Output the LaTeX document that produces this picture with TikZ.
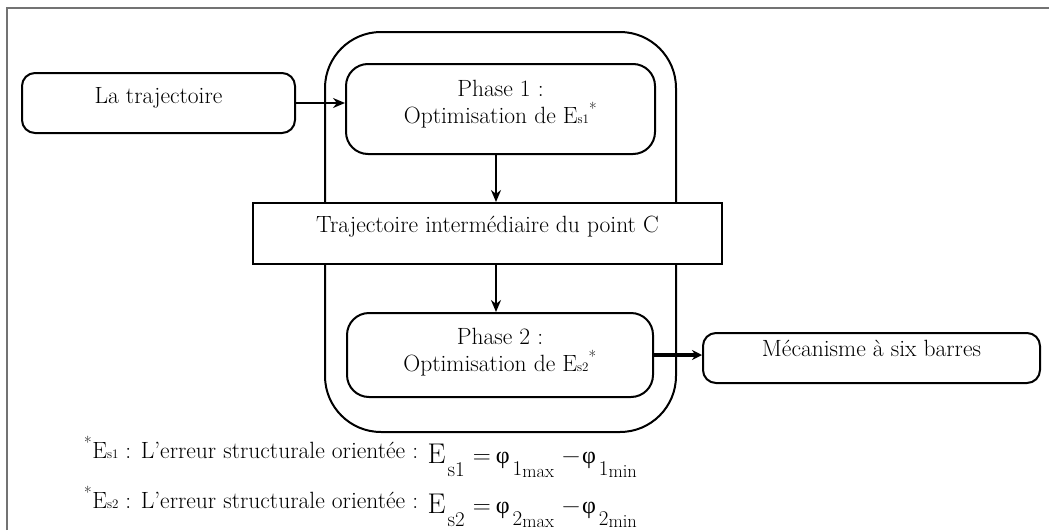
\documentclass[tikz,border=0pt]{standalone}
\usepackage{fontspec}
\newfontfamily\grk{Liberation Serif}
\usetikzlibrary{arrows.meta}

% E with a small subscript index (as written in the boxes)
\newcommand{\Esub}[1]{E{\fontsize{13}{13}\selectfont s#1}}
% lowered text at a given size: depth, size, text
\newcommand{\lowr}[3]{\raisebox{-#1pt}{\fontsize{#2}{#2}\selectfont #3}}
% structural error formula: index
\newcommand{\errformula}[1]{%
  \lowr{5}{28.5}{E}\hspace{2pt}\lowr{18}{21}{s#1}\hspace{8pt}%
  \lowr{5}{25}{=}\hspace{5pt}%
  \lowr{5}{24}{\grk φ}\hspace{3pt}\lowr{17}{21}{#1}\lowr{19}{18.5}{max}\hspace{8pt}%
  \lowr{5}{25}{−}\hspace{2pt}%
  \lowr{5}{24}{\grk φ}\hspace{3pt}\lowr{17}{21}{#1}\lowr{19}{18.5}{min}}

\tikzset{
  frameline/.style={draw=gray!90!black, line width=2pt},
  rbox/.style={draw, line width=2pt, rounded corners=13pt, inner sep=0pt},
  phasebox/.style={draw, line width=2pt, rounded corners=22pt, inner sep=0pt},
  outerbox/.style={draw, line width=2pt, rounded corners=56pt, inner sep=0pt},
  sqbox/.style={draw, line width=2pt, inner sep=0pt},
  lbl/.style={font=\fontsize{23.5}{27}\selectfont, align=center, inner sep=0pt},
  note/.style={anchor=base west, inner sep=0pt, font=\fontsize{23.5}{27}\selectfont},
  arr/.style={line width=2pt, -{Stealth[length=12pt,width=10pt]}},
  thickarr/.style={line width=4.5pt, -{Stealth[length=10pt,width=10pt]}},
}

\begin{document}
\begin{tikzpicture}[x=1pt,y=-1pt]
  \useasboundingbox (0,0) rectangle (1049,530);

  % page frame (top and left edges)
  \draw[frameline] (7,530) -- (7,8) -- (1049,8);

  % outer rounded container
  \node[outerbox, minimum width=351pt, minimum height=400pt] (outer) at (500.5,232) {};

  % boxes
  \node[rbox, minimum width=273pt, minimum height=60pt] (traj) at (158.5,103) {};
  \node[phasebox, minimum width=309pt, minimum height=90pt] (p1) at (500.5,109) {};
  \node[sqbox, fill=white, minimum width=469pt, minimum height=61pt] (inter) at (487.5,233.5) {};
  \node[phasebox, minimum width=306pt, minimum height=84pt] (p2) at (500,355) {};
  \node[rbox, minimum width=337pt, minimum height=50pt] (mec) at (871.5,358) {};

  % box texts
  \node[lbl] (ttraj) at ([yshift=5pt]traj.center) {La trajectoire};
  \node[lbl] (tp1) at ([yshift=5pt]p1.center) {Phase 1 :\\ Optimisation de \Esub{1}\textsuperscript{*}};
  \node[lbl] (tinter) at ([yshift=7pt]inter.center) {Trajectoire intermédiaire du point C};
  \node[lbl] (tp2) at ([yshift=3pt]p2.center) {Phase 2 :\\ Optimisation de \Esub{2}\textsuperscript{*}};
  \node[lbl] (tmec) at ([yshift=10pt]mec.center) {Mécanisme à six barres};

  % connectors
  \coordinate (a1) at ([xshift=-4.5pt]p1.south);
  \coordinate (a2) at ([xshift=8.5pt]inter.south);
  \draw[arr] (traj.east) -- (traj.east -| p1.west);
  \draw[arr] (a1) -- (a1 |- inter.north);
  \draw[arr] (a2) -- (a2 |- p2.north);
  \draw[thickarr] (p2.east) -- (p2.east -| mec.west);

  % footnotes with the definitions of the structural errors
  \node[note] (n1) at (84,458)
    {\textsuperscript{*}\Esub{1} : L'erreur structurale orientée : \errformula{1}};
  \node[note] (n2) at (84,508)
    {\textsuperscript{*}\Esub{2} : L'erreur structurale orientée : \errformula{2}};
\end{tikzpicture}
\end{document}
